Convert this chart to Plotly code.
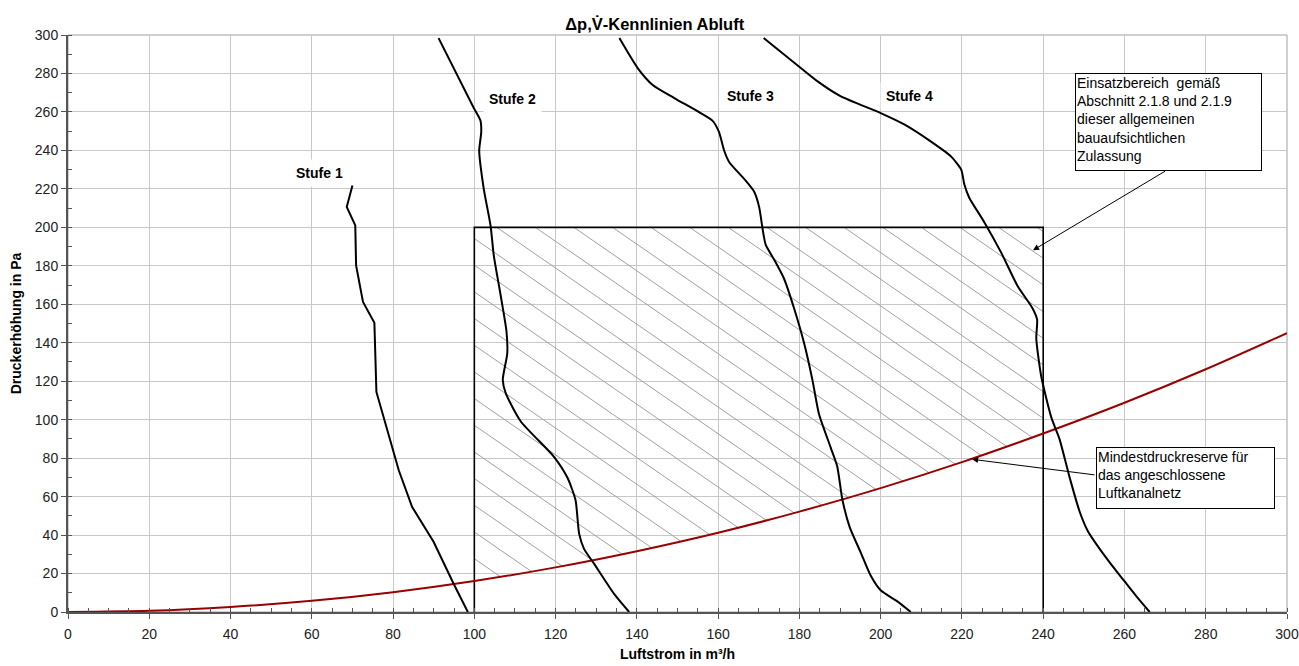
import numpy as np
import plotly.graph_objects as go

# ---------------- data ----------------
stufe1_x = [70.0, 68.6, 70.7, 70.9, 72.6, 75.4, 75.9, 80.5, 81.4, 84.7, 90.0, 94.9, 98.4]
stufe1_y = [221.8, 210.6, 201.0, 180.2, 161.2, 150.4, 114.4, 80.6, 73.7, 54.6, 36.4, 14.7, 0]

stufe2_x = [91.2, 99.8, 101.5, 101.7, 101.2, 102.3, 104.0, 104.8, 106.4, 107.9, 108.1, 107.0,
            107.7, 111.4, 119.6, 122.9, 124.9, 125.8, 127.0, 129.5, 134.4, 138.1]
stufe2_y = [298.4, 262.3, 255.5, 249.6, 239.8, 220.3, 200.8, 185.2, 165.6, 146.1, 134.4, 120.7,
            113.9, 99.2, 80.7, 69.9, 58.2, 40.6, 32.8, 25.0, 9.4, 0]

stufe3_x = [135.7, 140.2, 143.9, 149.2, 154.9, 158.6, 160.2, 161.5, 162.7, 166.4, 168.9, 170.1,
            170.9, 171.7, 173.8, 176.2, 178.7, 181.1, 183.2, 184.8, 187.7, 189.3, 190.6, 192.4,
            195.1, 197.5, 200.0, 204.1, 207.4]
stufe3_y = [298.4, 282.8, 274.0, 267.2, 260.4, 255.5, 249.6, 239.8, 234.0, 225.2, 218.4, 210.5,
            199.8, 191.0, 183.2, 173.4, 157.8, 140.2, 120.7, 103.1, 85.5, 75.8, 58.2, 44.0,
            30.9, 19.1, 11.3, 5.5, 0]

stufe4_x = [171.2, 179.8, 184.4, 190.1, 200.0, 205.8, 212.3, 217.3, 219.8, 220.6, 221.8, 225.5,
            229.6, 233.7, 237.4, 238.5, 238.3, 239.5, 242.0, 244.0, 246.5, 249.0, 251.0, 253.5,
            257.0, 260.0, 263.0, 266.2]
stufe4_y = [298.4, 283.8, 276.0, 268.2, 259.4, 253.5, 244.7, 236.9, 230.1, 222.3, 215.4, 202.7,
            187.1, 169.5, 157.8, 152.0, 142.2, 122.7, 101.2, 90.0, 70.0, 52.0, 42.0, 34.0,
            24.0, 16.0, 8.0, 0]

reserve_x = [0, 20, 40, 60, 80, 100, 120, 140, 160, 180, 200, 220, 240, 260, 280, 300]
reserve_y = [0, 0.6, 2.6, 5.8, 10.3, 16.1, 23.2, 31.6, 41.2, 52.2, 64.4, 77.9, 92.8, 108.8, 126.2, 145.0]

box_x = [100, 100, 240, 240]
box_y = [0, 200, 200, 0]

stufe_labels = ["Stufe 1", "Stufe 2", "Stufe 3", "Stufe 4"]
label_x = [62, 109.5, 168, 207]
label_y = [228, 266.5, 268.5, 268.5]

x_ticks = list(range(0, 301, 20))
y_ticks = list(range(0, 301, 20))

FONT = "Arial, 'Liberation Sans', sans-serif"

fig = go.Figure()

# ---------------- hatched range (above the reserve curve, inside box) ----------------
x_lo, x_hi = box_x[0], box_x[2]
y_top = box_y[1]
slope = -1.46
spacing = 9.5
xs_fine = np.linspace(x_lo, x_hi, 2801)
curve_fine = np.interp(xs_fine, reserve_x, reserve_y)
hx, hy = [], []
start = 105.5
k_min = int(np.floor((-40 - start) / spacing))
k_max = int(np.ceil((x_hi - start) / spacing))
for k in range(k_min, k_max + 1):
    xt = start + k * spacing
    line = y_top + slope * (xs_fine - xt)
    ok = (line <= y_top + 1e-9) & (line >= curve_fine)
    idx = np.where(ok)[0]
    if len(idx) < 2:
        continue
    seg = idx
    breaks = np.where(np.diff(seg) > 1)[0]
    if len(breaks):
        seg = seg[:breaks[0] + 1]
    x0, x1 = xs_fine[seg[0]], xs_fine[seg[-1]]
    hx += [x0, x1, None]
    hy += [y_top + slope * (x0 - xt), y_top + slope * (x1 - xt), None]

fig.add_trace(go.Scatter(x=hx, y=hy, mode="lines",
                         line=dict(color="#a0a0a0", width=1),
                         hoverinfo="skip", showlegend=False))

# box
fig.add_trace(go.Scatter(x=box_x, y=box_y, mode="lines",
                         line=dict(color="black", width=1.6),
                         hoverinfo="skip", showlegend=False))

# reserve curve
fig.add_trace(go.Scatter(x=reserve_x, y=reserve_y, mode="lines",
                         line=dict(color="#990000", width=2, shape="spline", smoothing=0.8),
                         showlegend=False))

# characteristic curves
fig.add_trace(go.Scatter(x=stufe1_x, y=stufe1_y, mode="lines",
                         line=dict(color="black", width=2), showlegend=False))
for sx, sy in [(stufe2_x, stufe2_y), (stufe3_x, stufe3_y), (stufe4_x, stufe4_y)]:
    fig.add_trace(go.Scatter(x=sx, y=sy, mode="lines",
                             line=dict(color="black", width=2, shape="spline", smoothing=0.6),
                             showlegend=False))

annotations = []
for t, lx, ly in zip(stufe_labels, label_x, label_y):
    annotations.append(dict(x=lx, y=ly, xref="x", yref="y", text=f"<b>{t}</b>",
                            showarrow=False, bgcolor="white", borderpad=5,
                            font=dict(family=FONT, size=14, color="black")))

# text boxes
annotations.append(dict(x=247.8, y=280.1, xref="x", yref="y", xanchor="left", yanchor="top",
                        text="Einsatzbereich  gemäß<br>Abschnitt 2.1.8 und 2.1.9<br>dieser allgemeinen<br>bauaufsichtlichen<br>Zulassung",
                        align="left", valign="top", showarrow=False, bgcolor="white",
                        bordercolor="black", borderwidth=1, borderpad=1, width=183, height=94,
                        font=dict(family=FONT, size=14, color="black")))
annotations.append(dict(x=253.0, y=85.8, xref="x", yref="y", xanchor="left", yanchor="top",
                        text="Mindestdruckreserve für<br>das angeschlossene<br>Luftkanalnetz",
                        align="left", valign="top", showarrow=False, bgcolor="white",
                        bordercolor="black", borderwidth=1, borderpad=1, width=175, height=58,
                        font=dict(family=FONT, size=14, color="black")))
# arrows
annotations.append(dict(x=237.5, y=188.1, xref="x", yref="y", ax=270.4, ay=229.7,
                        axref="x", ayref="y", text="", showarrow=True, arrowhead=2,
                        arrowsize=1.2, arrowwidth=1, arrowcolor="black", standoff=0, startstandoff=0))
annotations.append(dict(x=222.5, y=79.4, xref="x", yref="y", ax=253.0, ay=71.2,
                        axref="x", ayref="y", text="", showarrow=True, arrowhead=2,
                        arrowsize=1.2, arrowwidth=1, arrowcolor="black", standoff=0, startstandoff=0))

fig.update_layout(
    width=1299, height=666,
    margin=dict(l=68, r=12, t=35, b=54, autoexpand=False),
    paper_bgcolor="white", plot_bgcolor="white",
    font=dict(family=FONT, size=14, color="#222"),
    title=dict(text="<b>Δp,V̇-Kennlinien Abluft</b>", x=0.504, xanchor="center",
               y=1 - 24 / 666, yanchor="middle", yref="container",
               font=dict(family=FONT, size=16.5, color="black")),
    annotations=annotations,
    showlegend=False,
    shapes=[dict(type="rect", xref="paper", yref="paper", x0=0, y0=0, x1=1, y1=1,
                 line=dict(color="#a0a0a0", width=1), layer="below")],
)

fig.update_xaxes(range=[0, 300], tickvals=x_ticks, ticktext=[str(v) for v in x_ticks],
                 automargin=False,
                 showgrid=True, gridcolor="#c8c8c8", gridwidth=1,
                 showline=True, linecolor="#555555", linewidth=2,
                 ticks="outside", ticklen=5, tickcolor="#555555", tickwidth=1,
                 ticklabelstandoff=3,
                 minor=dict(dtick=5, ticks="inside", ticklen=4, tickcolor="#555555", showgrid=False),
                 zeroline=False, tickfont=dict(family=FONT, size=14, color="#222"),
                 title=dict(text="<b>Luftstrom in m³/h</b>", standoff=8,
                            font=dict(family=FONT, size=14, color="black")))
fig.update_yaxes(range=[0, 300], tickvals=y_ticks, ticktext=[str(v) for v in y_ticks],
                 automargin=False,
                 showgrid=True, gridcolor="#c8c8c8", gridwidth=1,
                 showline=True, linecolor="#555555", linewidth=2,
                 ticks="outside", ticklen=5, tickcolor="#555555", tickwidth=1,
                 minor=dict(dtick=10, ticks="inside", ticklen=4, tickcolor="#555555", showgrid=False),
                 zeroline=False, tickfont=dict(family=FONT, size=14, color="#222"),
                 title=dict(text="<b>Druckerhöhung in Pa</b>", standoff=10,
                            font=dict(family=FONT, size=14, color="black")))

fig.write_html("out.html")
